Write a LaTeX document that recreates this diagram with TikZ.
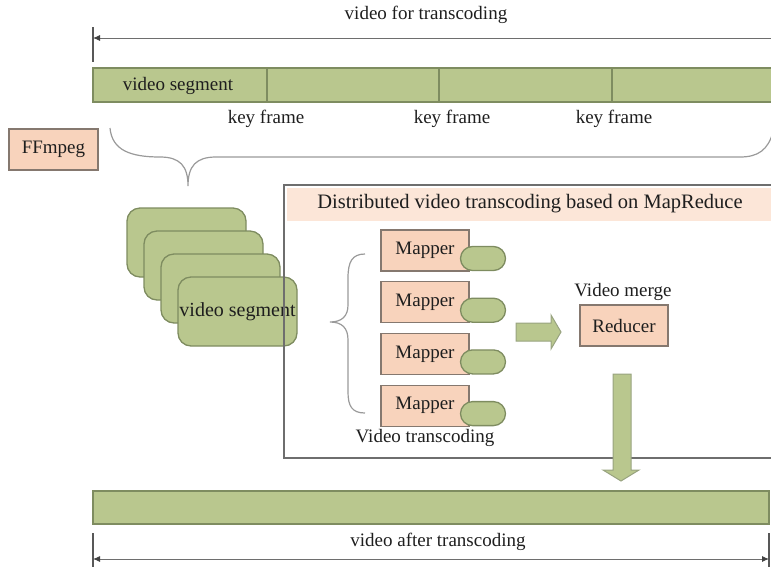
\documentclass[tikz,border=0pt]{standalone}
\usepackage{fontspec}
\setmainfont{Liberation Serif}
\usepackage{tikz}
\usetikzlibrary{positioning}
\usetikzlibrary{arrows.meta}
\usetikzlibrary{math}

\definecolor{segGreen}{HTML}{B9C78E}
\definecolor{segLine}{HTML}{7E8C60}
\definecolor{peach}{HTML}{F8D3BC}
\definecolor{peachLine}{HTML}{85786F}
\definecolor{bandPeach}{HTML}{FCE6D8}
\definecolor{inkGray}{HTML}{1E1E1E}
\definecolor{ruleGray}{HTML}{6E6E6E}
\definecolor{braceGray}{HTML}{9A9A9A}

\tikzset{
  txt/.style={font=\fontsize{19}{21}\selectfont, text=inkGray, inner sep=0pt},
  greenbox/.style={draw=segLine, fill=segGreen, line width=1.3pt},
  peachbox/.style={draw=peachLine, fill=peach, line width=1.2pt},
  dimline/.style={draw=ruleGray, line width=0.9pt},
  dimtick/.style={draw=ruleGray!80!black, line width=1.4pt},
  dimtip/.tip={Latex[length=7pt,width=6pt,color=ruleGray!60!black]},
  bracestyle/.style={draw=braceGray, line width=1.2pt},
  fatarrow/.style={draw=segLine!80, fill=segGreen, line width=1pt},
}

\begin{document}
\begin{tikzpicture}[x=1pt,y=-1pt]
      \tikzmath{
        \mapW = 88; \mapH = 41; \mapGap = 51.7;
        \segW = 119; \segH = 69;
      }
      \useasboundingbox (0,0) rectangle (771,566);

      % input video
      \node[txt] (InLabel) at (426,15) {video for transcoding};
      \coordinate (InL) at (93,38);
      \coordinate (InR) at (771,38);
      \draw[dimtick] (93,27) -- (93,62);
      \draw[dimline, -dimtip] (InR) -- (InL);

      \draw[greenbox] (93,68) rectangle (780,102);
      \foreach \x/\lx [count=\i] in {267/266,439/452,612/614} {
        \draw[segLine, line width=1.3pt] (\x,68) -- (\x,102);
        \node[txt] (Key\i) at (\lx,119) {key frame};
      }
      \node[txt] (BarLabel) at (178,86) {video segment};

      \node[peachbox, txt, minimum width=89, minimum height=41] (FFmpeg) at (53.5,149.5) {FFmpeg};

      % split brace
      \draw[bracestyle] (110,128) .. controls (112,150) and (130,157) .. (160,157)
        .. controls (180,157) and (188,166) .. (188,186)
        .. controls (188,166) and (196,157) .. (216,157) -- (740,157)
        .. controls (758,157) and (768,150) .. (773,132);

      % segments
      \foreach \i in {0,...,3} {
        \node[greenbox, rounded corners=13, minimum width=\segW, minimum height=\segH]
          (Seg\i) at ({186.5+17*\i}, {242.5+23*\i}) {};
      }
      \node[txt, font=\fontsize{20}{22}\selectfont] (SegLabel) at (Seg3) {video segment};

      % MapReduce frame
      \draw[ruleGray, line width=1.3pt] (284,185) rectangle (790,458);
      \fill[bandPeach] (287,188) rectangle (790,221);
      \node[txt, font=\fontsize{20.5}{22}\selectfont] (MRTitle) at (530,204)
        {Distributed video transcoding based on MapReduce};

      \foreach \i in {1,...,4} {
        \node[peachbox, txt, minimum width=\mapW, minimum height=\mapH]
          (Mapper\i) at (425, {250.5+\mapGap*(\i-1)}) {Mapper};
        \node[greenbox, rounded corners=12, minimum width=45, minimum height=24]
          (Pill\i) at (483, {258.5+\mapGap*(\i-1)}) {};
      }
      \node[txt] (TransLabel) at (425,438) {Video transcoding};

      \draw[bracestyle] (365,254) .. controls (352,254) and (348,262) .. (348,278) -- (348,305)
        .. controls (348,316) and (342,322) .. (330,322)
        .. controls (342,322) and (348,328) .. (348,340) -- (348,392)
        .. controls (348,406) and (352,413) .. (365,413);

      \draw[fatarrow] (516,323) -- (551,323) -- (551,315) -- (561,332) -- (551,349)
        -- (551,341) -- (516,341) -- cycle;

      \node[peachbox, txt, minimum width=88, minimum height=41] (Reducer) at (624,325.5) {Reducer};
      \node[txt] (MergeLabel) at (623,292) {Video merge};

      \draw[fatarrow] (613,374) -- (631,374) -- (631,470) -- (639,470) -- (621,481)
        -- (603,470) -- (613,470) -- cycle;

      % output video
      \draw[greenbox] (93,491) rectangle (769,524);
      \node[txt] (OutLabel) at (438,542) {video after transcoding};
      \coordinate (OutL) at (93,559);
      \coordinate (OutR) at (769,559);
      \draw[dimtick] (93,533) -- (93,570);
      \draw[dimtick] (769,533) -- (769,570);
      \draw[dimline, dimtip-dimtip] (OutL) -- (OutR);
    \end{tikzpicture}
\end{document}
